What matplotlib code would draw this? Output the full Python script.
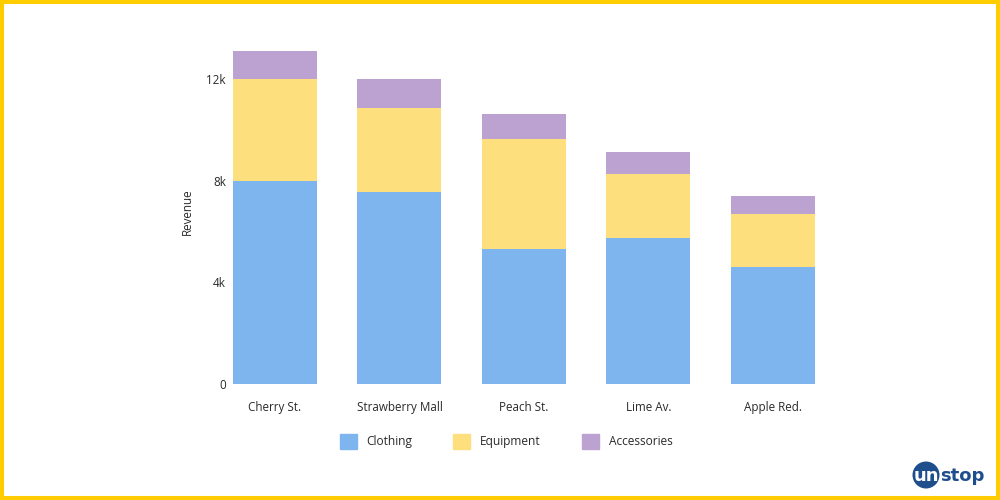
import numpy as np
import matplotlib.pyplot as plt
from matplotlib.patches import Rectangle, Ellipse, Patch

stores = ["Cherry St.", "Strawberry Mall", "Peach St.", "Lime Av.", "Apple Red."]
clothing = [8000, 7550, 5300, 5750, 4600]
equipment = [4000, 3300, 4350, 2500, 2100]
accessories = [1100, 1150, 980, 860, 710]
yticks = [0, 4000, 8000, 12000]
ytick_labels = ["0", "4k", "8k", "12k"]

c_blue = "#7eb5ef"
c_yellow = "#fddf7e"
c_purple = "#bba2d0"
txt = "#2a2a2a"

plt.rcParams['font.family'] = ['Open Sans', 'DejaVu Sans']

fig = plt.figure(figsize=(10, 5), dpi=100)
# axes placed in pixel terms: left 230, right 830, bottom y=384, top y=40
ax = fig.add_axes([0.23, 1 - 384 / 500, 0.60, (384 - 40) / 500])

x = np.arange(len(stores))
w = 0.675
bottom2 = np.array(clothing)
bottom3 = bottom2 + np.array(equipment)
ax.bar(x, clothing, w, color=c_blue)
ax.bar(x, equipment, w, bottom=bottom2, color=c_yellow)
ax.bar(x, accessories, w, bottom=bottom3, color=c_purple)

ax.set_xlim(-0.361, 4.458)
ax.set_ylim(0, 13530)
ax.set_xticks(x)
ax.set_xticklabels(stores, fontsize=8.4, color=txt)
ax.set_yticks(yticks)
ax.set_yticklabels(ytick_labels, fontsize=8.4, color=txt)
ax.tick_params(length=0, pad=3)
ax.tick_params(axis='x', pad=12)
for s in ax.spines.values():
    s.set_visible(False)
ax.set_ylabel("Revenue", fontsize=8.4, color=txt, labelpad=9)

handles = [Patch(color=c_blue, label="Clothing"),
           Patch(color=c_yellow, label="Equipment"),
           Patch(color=c_purple, label="Accessories")]
leg = fig.legend(handles=handles, loc='center', bbox_to_anchor=(0.506, 0.117),
                 ncol=3, frameon=False, fontsize=8.6, handlelength=1.43,
                 handleheight=1.43, handletextpad=0.84, columnspacing=3.4)
for t in leg.get_texts():
    t.set_color(txt)

# logo
navy = "#1f4e8c"
fig.patches.append(Ellipse((926 / 1000, 1 - 475 / 500), 0.027, 0.054, transform=fig.transFigure,
                           facecolor=navy, edgecolor='none'))
fig.text(926 / 1000, 1 - 476 / 500, "un", color="white", fontsize=13, fontweight='bold',
         ha='center', va='center', family='DejaVu Sans')
fig.text(940 / 1000, 1 - 476 / 500, "stop", color=navy, fontsize=13, fontweight='bold',
         ha='left', va='center', family='DejaVu Sans')

# yellow frame
fig.patches.append(Rectangle((0, 0), 1, 1, transform=fig.transFigure, fill=False,
                             edgecolor="#ffcc00", linewidth=5.8))

fig.savefig("out.png", dpi=100)
